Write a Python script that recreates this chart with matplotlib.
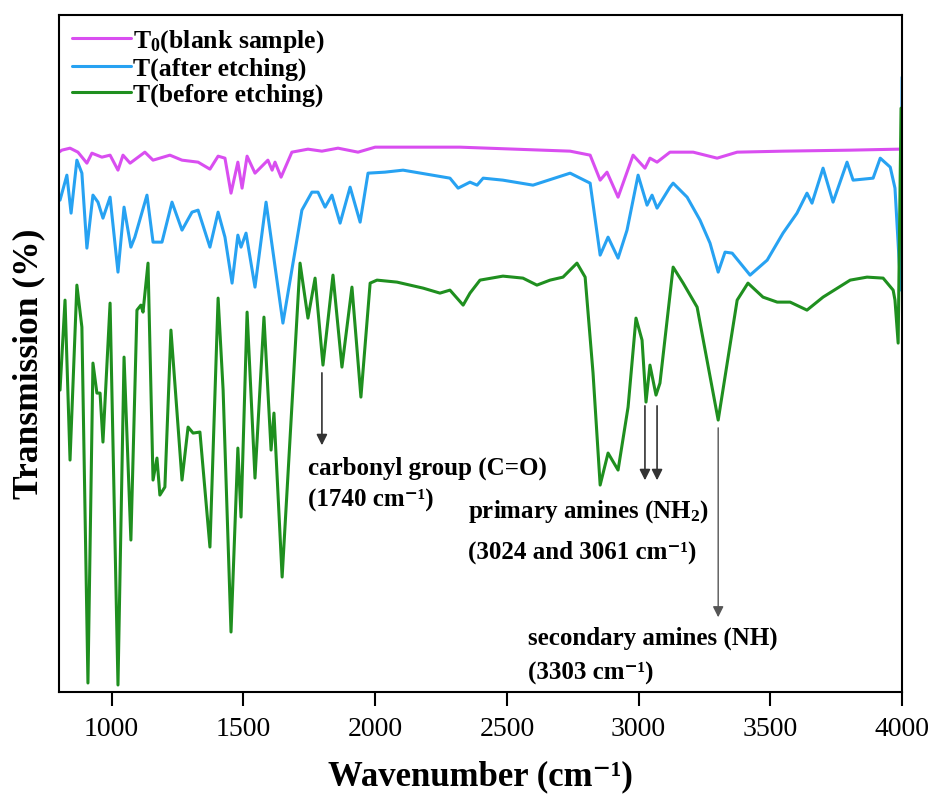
import numpy as np
import matplotlib
matplotlib.use("Agg")
import matplotlib.pyplot as plt

plt.rcParams['font.family'] = ['Liberation Serif', 'DejaVu Serif']
plt.rcParams['mathtext.default'] = 'regular'

# spectra (wavenumber cm-1, transmission in arbitrary units)
blank_wn = [800, 811, 842, 872, 906, 925, 963, 994, 1024, 1043, 1070, 1126, 1157, 1221, 1267,
            1328, 1373, 1404, 1430, 1453, 1479, 1495, 1514, 1544, 1593, 1609, 1620, 1643, 1684,
            1745, 1798, 1859, 1935, 2000, 2037, 2322, 2740, 2816, 2854, 2880, 2922, 2979, 3024,
            3043, 3070, 3119, 3207, 3298, 3374, 3548, 3803, 3985, 4000]
blank_t = [540, 542, 544, 540, 529, 539, 535, 537, 522, 537, 529, 540, 532, 537, 532,
           530, 523, 536, 534, 499, 530, 504, 536, 519, 532, 522, 530, 515, 540,
           543, 541, 544, 540, 545, 545, 545, 541, 537, 512, 520, 495, 537, 524,
           534, 530, 540, 540, 534, 540, 541, 542, 543, 543]

after_wn = [804, 830, 846, 868, 887, 906, 929, 948, 967, 994, 1024, 1047, 1073, 1088, 1134,
            1157, 1191, 1229, 1267, 1305, 1328, 1373, 1404, 1430, 1457, 1479, 1491, 1510, 1544,
            1586, 1650, 1722, 1760, 1783, 1810, 1836, 1867, 1905, 1943, 1973, 2037, 2106, 2284,
            2315, 2360, 2387, 2410, 2485, 2599, 2740, 2816, 2854, 2884, 2922, 2956, 2998, 3032,
            3051, 3070, 3119, 3131, 3184, 3233, 3271, 3302, 3328, 3355, 3423, 3488, 3548, 3601,
            3639, 3658, 3700, 3738, 3791, 3814, 3890, 3917, 3955, 3973, 3989, 3996, 4000]
after_t = [492, 517, 479, 532, 519, 444, 497, 490, 474, 495, 420, 485, 445, 455, 497,
           450, 450, 490, 462, 480, 482, 445, 480, 455, 409, 457, 445, 459, 405,
           490, 369, 482, 500, 500, 485, 497, 469, 505, 470, 519, 520, 522, 514,
           504, 510, 507, 514, 512, 507, 519, 509, 437, 455, 434, 462, 517, 487,
           497, 484, 505, 509, 495, 472, 449, 420, 440, 439, 417, 432, 459, 479,
           499, 489, 524, 490, 530, 512, 514, 534, 525, 504, 430, 402, 615]

before_wn = [804, 823, 842, 868, 887, 910, 929, 944, 956, 967, 994, 1024, 1047, 1073, 1096,
             1111, 1119, 1138, 1157, 1172, 1183, 1202, 1225, 1267, 1290, 1309, 1335, 1373, 1404,
             1423, 1453, 1479, 1491, 1514, 1544, 1578, 1605, 1616, 1647, 1715, 1745, 1772, 1802,
             1840, 1874, 1912, 1946, 1981, 2007, 2083, 2182, 2246, 2284, 2334, 2360, 2398, 2485,
             2561, 2614, 2664, 2713, 2766, 2797, 2827, 2854, 2884, 2922, 2960, 2990, 3013, 3028,
             3043, 3066, 3081, 3131, 3169, 3222, 3302, 3374, 3415, 3472, 3526, 3575, 3639, 3700,
             3803, 3867, 3928, 3966, 3973, 3985, 3996]
before_t = [302, 392, 232, 407, 365, 9, 329, 299, 299, 250, 389, 7, 335, 152, 382,
            387, 380, 429, 212, 234, 197, 205, 362, 212, 265, 259, 260, 145, 394,
            302, 60, 244, 175, 380, 214, 375, 242, 279, 115, 429, 374, 414, 327,
            417, 325, 405, 295, 409, 412, 410, 404, 399, 402, 387, 399, 412, 416,
            414, 407, 412, 415, 429, 415, 319, 207, 239, 222, 285, 374, 352, 290,
            327, 297, 309, 425, 409, 385, 272, 392, 409, 395, 390, 390, 382, 395,
            412, 415, 414, 402, 392, 349, 584]

labels = ['T$_0$(blank sample)', 'T(after etching)', 'T(before etching)']
colors = ['#d94ef0', '#27a2f2', '#1f8f1f']

fig = plt.figure(figsize=(9.3, 8), dpi=100)
ax = fig.add_axes([0.0634, 0.135, 0.9066, 0.846])

line_kw = dict(lw=2.2, solid_joinstyle='round', solid_capstyle='round')
ax.plot(blank_wn, blank_t, color=colors[0], label=labels[0], **line_kw)
ax.plot(after_wn, after_t, color=colors[1], label=labels[1], **line_kw)
ax.plot(before_wn, before_t, color=colors[2], label=labels[2], **line_kw)

ax.set_xlim(800, 4000)
ax.set_ylim(0, 677)
ax.set_xticks([1000, 1500, 2000, 2500, 3000, 3500, 4000])
ax.set_yticks([])
ax.tick_params(axis='x', direction='out', length=10, width=1.5, labelsize=20, pad=8)
for s in ax.spines.values():
    s.set_linewidth(1.5)

ax.set_xlabel('Wavenumber (cm\u207b\u00b9)', fontsize=25, fontweight='bold', labelpad=13)
ax.set_ylabel('Transmission (%)', fontsize=25.5, fontweight='bold')
ax.yaxis.set_label_coords(-0.016, 0.485)

leg = ax.legend(loc='upper left', bbox_to_anchor=(0, 1), borderaxespad=0, borderpad=0.5,
                frameon=False, handlelength=2.3, handletextpad=0.1, labelspacing=0.1,
                prop={'size': 18.5, 'weight': 'bold'})

# annotations
arrow_kw = dict(arrowstyle='-|>', color='#333333', lw=1.2, mutation_scale=16)
ax.annotate('', xy=(1798, 244), xytext=(1798, 322), arrowprops=arrow_kw)
ax.annotate('', xy=(3024, 209), xytext=(3024, 289), arrowprops=arrow_kw)
ax.annotate('', xy=(3070, 209), xytext=(3070, 289), arrowprops=arrow_kw)
ax.annotate('', xy=(3302, 72), xytext=(3302, 267),
            arrowprops=dict(arrowstyle='-|>', color='#555555', lw=1.0, mutation_scale=16))

tkw = dict(fontsize=18, fontweight='bold', ha='left', va='center')
ax.text(1745, 224, 'carbonyl group (C=O)', **tkw)
ax.text(1745, 192, '(1740 cm\u207b\u00b9)', **tkw)
ax.text(2353, 180, 'primary amines (NH$_2$)', **tkw)
ax.text(2353, 140, '(3024 and 3061 cm\u207b\u00b9)', **tkw)
ax.text(2580, 54, 'secondary amines (NH)', **tkw)
ax.text(2580, 19, '(3303 cm\u207b\u00b9)', **tkw)

fig.savefig('out.png', dpi=100)
